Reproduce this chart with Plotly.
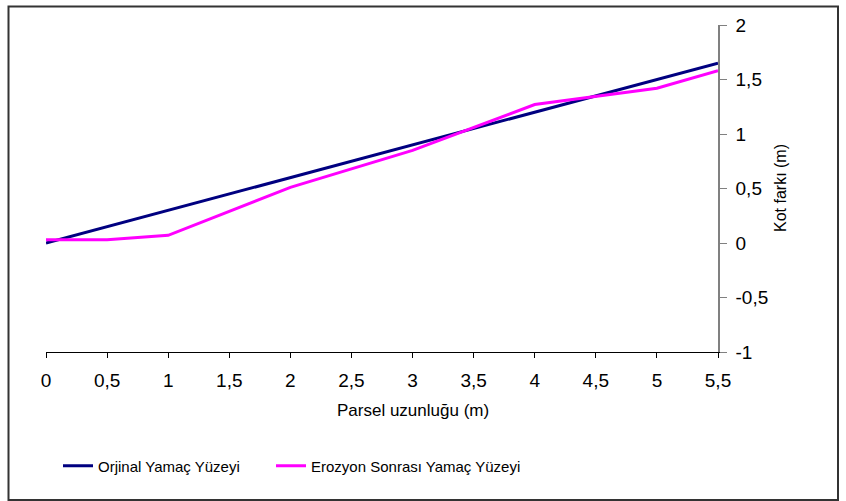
import plotly.graph_objects as go

# Slope profile along the plot length (m) and elevation difference (m)
x_original = [0, 0.5, 1, 2, 3, 4, 5, 5.5]
y_original = [0, 0.15, 0.3, 0.6, 0.9, 1.2, 1.5, 1.65]

x_eroded = [0, 0.5, 1, 2, 3, 4, 5, 5.5]
y_eroded = [0.03, 0.03, 0.07, 0.51, 0.85, 1.27, 1.42, 1.58]

x_ticks = [0, 0.5, 1, 1.5, 2, 2.5, 3, 3.5, 4, 4.5, 5, 5.5]
y_ticks = [-1, -0.5, 0, 0.5, 1, 1.5, 2]

series_names = ["Orjinal Yamaç Yüzeyi", "Erozyon Sonrası Yamaç Yüzeyi"]
series_colors = ["#000080", "#FF00FF"]

FONT = "Liberation Sans, Arial, sans-serif"
W, H = 846, 501
ML, MR, MT, MB = 46, 128, 25, 149
PW, PH = W - ML - MR, H - MT - MB


def px(xp):
    return (xp - ML) / PW


def py(yp):
    return (H - MB - yp) / PH


def label(v):
    # decimal comma, plain hyphen for negatives
    s = f"{v:g}".replace(".", ",")
    return s


fig = go.Figure()
fig.add_trace(go.Scatter(x=x_original, y=y_original, mode="lines",
                         name=series_names[0], legend="legend",
                         line=dict(color=series_colors[0], width=3)))
fig.add_trace(go.Scatter(x=x_eroded, y=y_eroded, mode="lines",
                         name=series_names[1], legend="legend2",
                         line=dict(color=series_colors[1], width=3)))

legend_style = dict(orientation="h", yanchor="middle", xanchor="left",
                    font=dict(family=FONT, size=15), itemwidth=30,
                    bgcolor="rgba(0,0,0,0)")

fig.update_layout(
    width=W, height=H,
    margin=dict(l=ML, r=MR, t=MT, b=MB),
    paper_bgcolor="white", plot_bgcolor="white",
    font=dict(family=FONT, size=19, color="black"),
    showlegend=True,
    legend=dict(x=px(58), y=py(466), **legend_style),
    legend2=dict(x=px(271), y=py(466), **legend_style),
    xaxis=dict(range=[0, 5.5], tickvals=x_ticks,
               ticktext=[label(v) for v in x_ticks],
               showgrid=False, zeroline=False,
               showline=True, linecolor="black", linewidth=1,
               ticks="outside", ticklen=5, tickcolor="black",
               ticklabelstandoff=6,
               tickfont=dict(size=19), fixedrange=True),
    yaxis=dict(range=[-1, 2], tickvals=y_ticks,
               ticktext=[label(v) for v in y_ticks],
               side="right", showgrid=False,
               zeroline=False, showline=True, linecolor="#808080", linewidth=1.5,
               ticks="outside", ticklen=7, tickcolor="#808080",
               ticklabelstandoff=5,
               tickfont=dict(size=19), fixedrange=True),
    annotations=[
        dict(text="Parsel uzunluğu (m)", xref="paper", yref="paper",
             x=px(413), y=py(410), showarrow=False,
             font=dict(size=17), xanchor="center", yanchor="middle"),
        dict(text="Kot farkı (m)", xref="paper", yref="paper",
             x=px(780), y=py(188), showarrow=False, textangle=-90,
             font=dict(size=16), xanchor="center", yanchor="middle"),
    ],
    shapes=[
        dict(type="rect", xref="paper", yref="paper",
             x0=px(8.5), x1=px(838), y0=py(500), y1=py(6.5),
             line=dict(color="#333333", width=2), fillcolor="rgba(0,0,0,0)",
             layer="below"),
    ],
)

fig.write_html("out.html")
